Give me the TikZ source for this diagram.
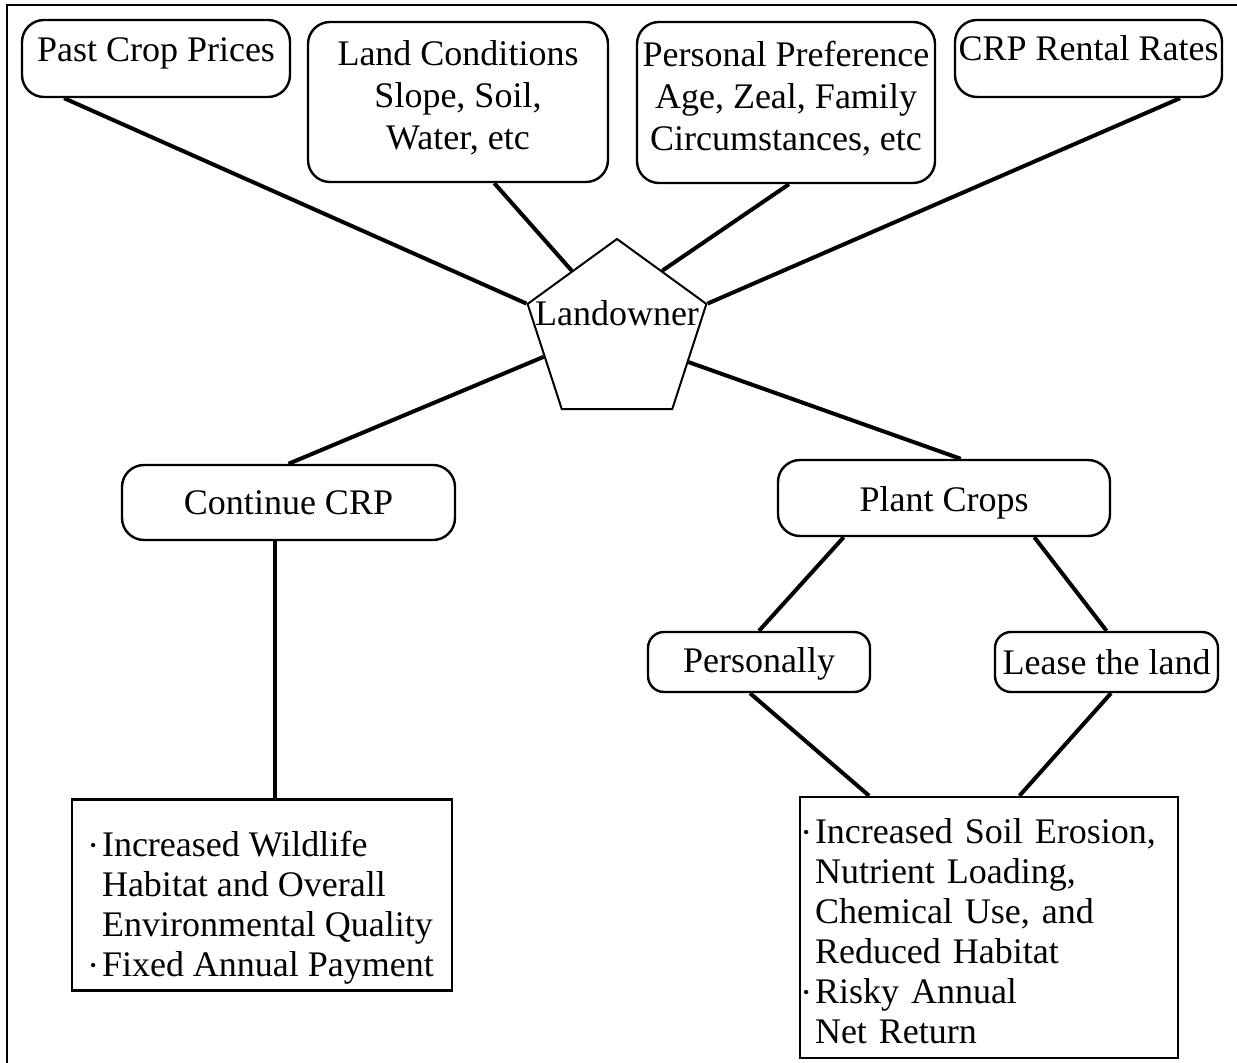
\documentclass[tikz,border=0pt]{standalone}
\usepackage{fontspec}
\setmainfont{Liberation Serif}
\usetikzlibrary{shapes.geometric,calc}
\newcommand\bul{\makebox[6pt][l]{\raisebox{0.3ex}{\fontsize{9}{9}\selectfont\char"2022}}}
\newcommand\nobul{\hspace*{6pt}}
\begin{document}
\begin{tikzpicture}[x=0.5pt,y=-0.5pt,
 every node/.style={font=\fontsize{18}{21}\selectfont},
 rbox/.style={draw,line width=1.2pt,rounded corners=11pt,align=center,inner sep=1pt},
 sbox/.style={draw,line width=1.2pt,align=left,font=\fontsize{18}{20}\selectfont},
 penta/.style={draw,line width=1pt,regular polygon,regular polygon sides=5,minimum size=94pt,inner sep=0pt},
 link/.style={line width=2pt}]
\useasboundingbox (0,0) rectangle (1237,1063);
\draw[line width=0.9pt] (7,1063) -- (7,5) -- (1237,5);

\node[rbox,minimum width=134pt,minimum height=38.5pt,text depth=9pt] (past) at (156,58.5) {Past Crop Prices};
\node[rbox,minimum width=150pt,minimum height=80pt,text depth=7pt] (landc) at (458,102) {Land Conditions\\Slope, Soil,\\Water, etc};
\node[rbox,minimum width=149pt,minimum height=80.5pt,text depth=7pt] (pers) at (786,102.5) {Personal Preference\\Age, Zeal, Family\\Circumstances, etc};
\node[rbox,minimum width=133.5pt,minimum height=38.5pt,text depth=10.5pt] (crp) at (1088.5,58.5) {CRP Rental Rates};

\node[penta] (land) at (617,333) {};
\node (landtxt) at (617,313) {Landowner};

\node[rbox,minimum width=166.5pt,minimum height=37.5pt] (cont) at (288.5,502.5) {Continue CRP};
\node[rbox,minimum width=166pt,minimum height=38pt,text height=16pt,text depth=2pt] (plant) at (944,498) {Plant Crops};
\node[rbox,rounded corners=8pt,minimum width=111pt,minimum height=30pt,text height=14pt] (persn) at (759,662) {Personally};
\node[rbox,rounded corners=8pt,minimum width=111.5pt,minimum height=30pt] (lease) at (1106.5,662) {Lease the land};

\node[sbox,minimum width=190pt,minimum height=95pt,inner xsep=8.5pt] (leftres) at (262,895)
 {\rule{0pt}{25pt}\bul Increased Wildlife\\\nobul Habitat and Overall\\\nobul Environmental Quality\\\bul Fixed Annual Payment};
\node[sbox,minimum width=189pt,minimum height=130.5pt,text width=186pt,inner xsep=1.5pt] (rightres) at (989,927.5)
 {\rule{0pt}{16pt}\bul Increased Soil Erosion,\\\nobul Nutrient Loading,\\\nobul Chemical Use, and\\\nobul Reduced Habitat\\\bul Risky Annual\\\nobul Net Return};

\draw[link] ($(past.south west)!0.16!(past.south east)$) -- (land.corner 2);
\draw[link] ($(landc.south west)!0.62!(landc.south east)$) -- ($(land.corner 1)!0.5!(land.corner 2)$);
\draw[link] ($(pers.south west)!0.51!(pers.south east)$) -- ($(land.corner 1)!0.5!(land.corner 5)$);
\draw[link] ($(crp.south west)!0.84!(crp.south east)$) -- (land.corner 5);
\draw[link] ($(land.corner 2)!0.5!(land.corner 3)$) -- (cont.north);
\draw[link] ($(land.corner 5)!0.55!(land.corner 4)$) -- ($(plant.north west)!0.55!(plant.north east)$);
\draw[link] ($(cont.south west)!0.46!(cont.south east)$) coordinate (c1) -- (c1 |- leftres.north);
\draw[link] ($(plant.south west)!0.2!(plant.south east)$) -- (persn.north);
\draw[link] ($(plant.south west)!0.77!(plant.south east)$) -- (lease.north);
\draw[link] ($(persn.south west)!0.46!(persn.south east)$) -- ($(rightres.north west)!0.185!(rightres.north east)$);
\draw[link] ($(lease.south west)!0.52!(lease.south east)$) -- ($(rightres.north west)!0.58!(rightres.north east)$);
\end{tikzpicture}
\end{document}
